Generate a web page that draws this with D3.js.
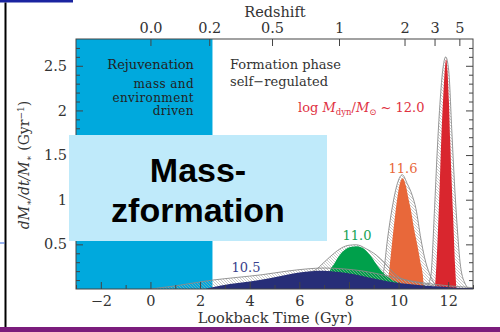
<!DOCTYPE html>
<html>
<head>
<meta charset="utf-8">
<script src="https://cdn.jsdelivr.net/npm/d3@7"></script>
<style>
  body { margin: 0; background: #fff; }
  svg { display: block; }
  .tick text { font-family: "DejaVu Serif", serif; font-size: 14.5px; fill: #333; }
  .tick line { stroke: #444; }
</style>
</head>
<body>
<div class="canvas"></div>
<script>
// ---- data (lookback time in Gyr, rate in Gyr^-1) ----
const redFill = [[11.46,0],[11.5,0.15],[11.58,0.6],[11.65,1.1],[11.72,1.67],[11.8,2.15],[11.87,2.48],[11.92,2.57],[11.97,2.45],[12.03,2.1],[12.08,1.67],[12.14,1.2],[12.2,0.8],[12.28,0.25],[12.33,0]];
const redEnv = [[11.1,0],[11.3,0.15],[11.45,0.9],[11.55,1.5],[11.65,2.0],[11.78,2.45],[11.9,2.6],[12.02,2.45],[12.15,1.75],[12.25,1.2],[12.35,0.75],[12.5,0.25],[12.7,0.05],[12.85,0]];
const orangeFill = [[9.52,0],[9.58,0.1],[9.65,0.28],[9.75,0.55],[9.85,0.8],[9.95,1.02],[10.05,1.18],[10.17,1.24],[10.3,1.15],[10.4,1.01],[10.5,0.88],[10.62,0.68],[10.75,0.5],[10.88,0.3],[10.98,0.15],[11.02,0]];
const orangeEnv = [[9.05,0],[9.2,0.05],[9.4,0.2],[9.55,0.55],[9.75,0.92],[9.95,1.18],[10.15,1.28],[10.35,1.18],[10.55,1.05],[10.7,0.9],[10.9,0.56],[11.05,0.35],[11.25,0.17],[11.45,0.06],[11.65,0]];
const greenFill = [[7.1,0],[7.2,0.18],[7.4,0.28],[7.6,0.37],[7.8,0.43],[8.05,0.47],[8.33,0.48],[8.6,0.45],[8.85,0.38],[9.1,0.28],[9.35,0.19],[9.6,0.13],[9.9,0.08],[10.3,0.03],[10.8,0]];
const greenEnv = [[5.5,0],[6.0,0.12],[6.3,0.18],[6.63,0.21],[7.0,0.3],[7.4,0.4],[7.7,0.46],[8.0,0.49],[8.3,0.495],[8.7,0.45],[9.1,0.38],[9.45,0.29],[9.8,0.18],[10.1,0.12],[10.8,0.07],[11.5,0.03],[12.2,0]];
const navyFill = [[2.2,0],[2.5,0.02],[3.2,0.055],[4.0,0.085],[4.8,0.12],[5.5,0.16],[6.0,0.185],[6.5,0.2],[7.0,0.205],[7.6,0.19],[8.2,0.165],[8.8,0.13],[9.6,0.085],[10.4,0.055],[11.4,0.03],[12.2,0.018],[13,0.01]];
const navyEnv = [[0,0],[1.0,0.035],[2.5,0.1],[3.5,0.13],[4.5,0.16],[5.5,0.2],[6.3,0.225],[7.0,0.235],[7.8,0.225],[8.6,0.2],[9.5,0.15],[10.5,0.09],[11.5,0.05],[12.5,0.025],[13,0.015]];

const lookbackMajor = [-2, 0, 2, 4, 6, 8, 10, 12];
const rateMajor = [0.5, 1, 1.5, 2, 2.5];
const redshiftLabels = ['0.0', '0.2', '0.5', '1', '2', '3', '5'];
const redshiftLookback = [0, 2.37, 4.9, 7.6, 10.24, 11.45, 12.45];
const rejuvenationEnd = 2.5;

const width = 500, height = 332;
const margin = { top: 39, right: 27, bottom: 43, left: 76 };
const graphWidth = width - margin.left - margin.right;
const graphHeight = height - margin.top - margin.bottom;

const svg = d3.select('.canvas')
    .append('svg')
    .attr('width', width)
    .attr('height', height);

// slide decorations
svg.append('rect').attr('x', 0).attr('y', 0).attr('width', 73).attr('height', 2.5).attr('fill', '#1a24a0');
svg.append('rect').attr('x', 4.5).attr('y', 2.5).attr('width', 2).attr('height', 325).attr('fill', '#000');
svg.append('rect').attr('x', 0).attr('y', 242.5).attr('width', 4.5).attr('height', 1).attr('fill', '#3366e0');
svg.append('rect').attr('x', 0).attr('y', 327).attr('width', width).attr('height', 5).attr('fill', '#7b1d7c');

const graph = svg.append('g')
    .attr('transform', `translate(${margin.left}, ${margin.top})`);

// scales
const x = d3.scaleLinear().domain([-3, 13]).range([0, graphWidth]);
const y = d3.scaleLinear().domain([0, 2.8]).range([graphHeight, 0]);

// hatch pattern for uncertainty envelopes
const defs = svg.append('defs');
const pat = defs.append('pattern')
    .attr('id', 'hatch')
    .attr('patternUnits', 'userSpaceOnUse')
    .attr('width', 3).attr('height', 3);
pat.append('path')
    .attr('d', 'M-1,-1 L4,4 M-1,2 L1,4 M2,-1 L4,1')
    .attr('stroke', '#a8a8a8')
    .attr('stroke-width', 0.6);
defs.append('clipPath').attr('id', 'plotclip')
    .append('rect').attr('width', graphWidth).attr('height', graphHeight);

// rejuvenation band
graph.append('rect')
    .attr('x', 0).attr('y', 0)
    .attr('width', x(rejuvenationEnd))
    .attr('height', graphHeight)
    .attr('fill', '#00a9dd');

const area = d3.area()
    .x(d => x(d[0]))
    .y0(graphHeight)
    .y1(d => y(d[1]))
    .curve(d3.curveMonotoneX);
const line = d3.line()
    .x(d => x(d[0]))
    .y(d => y(d[1]))
    .curve(d3.curveMonotoneX);

const curves = graph.append('g').attr('clip-path', 'url(#plotclip)');
const series = [
    { env: redEnv, fill: redFill, color: '#d9262e' },
    { env: orangeEnv, fill: orangeFill, color: '#e8683a' },
    { env: greenEnv, fill: greenFill, color: '#00a04b' },
    { env: navyEnv, fill: navyFill, color: '#272e78' }
];
series.forEach(s => {
    curves.append('path').datum(s.env)
        .attr('d', area)
        .attr('fill', 'url(#hatch)');
    curves.append('path').datum(s.env)
        .attr('d', line)
        .attr('fill', 'none')
        .attr('stroke', '#8a8a8a')
        .attr('stroke-width', 0.9);
    curves.append('path').datum(s.fill)
        .attr('d', area)
        .attr('fill', s.color);
});

// axes
const minorX = d3.range(-3, 14, 1).filter(v => !lookbackMajor.includes(v));
const minorY = d3.range(1, 28).map(v => v / 10).filter(v => !rateMajor.includes(v));

const xAxis = d3.axisBottom(x).tickValues(lookbackMajor).tickSize(-7).tickPadding(7)
    .tickFormat(d => d < 0 ? '\u2212' + Math.abs(d) : d);
const xMinor = d3.axisBottom(x).tickValues(minorX).tickSize(-4).tickFormat('');
const yAxis = d3.axisLeft(y).tickValues(rateMajor).tickSize(-7).tickPadding(9)
    .tickFormat(d => d);
const yMinor = d3.axisLeft(y).tickValues(minorY).tickSize(-4).tickFormat('');
const yRight = d3.axisRight(y).tickValues(rateMajor).tickSize(-7).tickFormat('');
const yRightMinor = d3.axisRight(y).tickValues(minorY).tickSize(-4).tickFormat('');
const zAxis = d3.axisTop(x).tickValues(redshiftLookback).tickSize(-7).tickPadding(6)
    .tickFormat((d, i) => redshiftLabels[i]);

graph.append('g').attr('transform', `translate(0, ${graphHeight})`).call(xAxis);
graph.append('g').attr('transform', `translate(0, ${graphHeight})`).call(xMinor);
graph.append('g').call(yAxis);
graph.append('g').call(yMinor);
graph.append('g').attr('transform', `translate(${graphWidth}, 0)`).call(yRight);
graph.append('g').attr('transform', `translate(${graphWidth}, 0)`).call(yRightMinor);
graph.append('g').call(zAxis);
graph.selectAll('.domain').remove();

graph.append('rect')
    .attr('width', graphWidth).attr('height', graphHeight)
    .attr('fill', 'none').attr('stroke', '#444').attr('stroke-width', 1);

// axis titles
const serif = '"DejaVu Serif", serif';
svg.append('text')
    .attr('x', 275).attr('y', 17)
    .attr('text-anchor', 'middle')
    .style('font-family', serif).style('font-size', '14.5px').attr('fill', '#333')
    .text('Redshift');
svg.append('text')
    .attr('x', 275).attr('y', 323)
    .attr('text-anchor', 'middle')
    .style('font-family', serif).style('font-size', '14.5px').attr('fill', '#333')
    .text('Lookback Time (Gyr)');

const yl = svg.append('text')
    .attr('transform', 'translate(29, 165) rotate(-90)')
    .attr('text-anchor', 'middle')
    .style('font-family', serif).style('font-size', '14px').attr('fill', '#333');
yl.append('tspan').style('font-style', 'italic').text('dM');
yl.append('tspan').attr('dy', 3).style('font-size', '9px').text('\u2217');
yl.append('tspan').attr('dy', -3).style('font-style', 'italic').text('/dt/M');
yl.append('tspan').attr('dy', 3).style('font-size', '9px').text('\u2217');
yl.append('tspan').attr('dy', -3).text(' (Gyr');
yl.append('tspan').attr('dy', -5).style('font-size', '9px').text('\u22121');
yl.append('tspan').attr('dy', 5).text(')');

// annotations
const note = (txt, xp, yp, anchor, color, size) => svg.append('text')
    .attr('x', xp).attr('y', yp)
    .attr('text-anchor', anchor)
    .style('font-family', serif).style('font-size', (size || 13) + 'px')
    .attr('fill', color)
    .text(txt);

note('Rejuvenation', 194, 69, 'end', '#222');
note('mass and', 194, 87.5, 'end', '#222', 12).style('letter-spacing', '0.4px');
note('environment', 194, 101.5, 'end', '#222', 12).style('letter-spacing', '0.4px');
note('driven', 194, 115, 'end', '#222', 12).style('letter-spacing', '0.4px');
note('Formation phase', 230, 69, 'start', '#333');
note('self\u2212regulated', 230, 86, 'start', '#333');
note('11.6', 403, 173, 'middle', '#e8683a');
note('11.0', 357, 240, 'middle', '#17a356');
note('10.5', 246, 271.5, 'middle', '#3a3f8c');

const lm = svg.append('text')
    .attr('x', 298).attr('y', 112)
    .style('font-family', serif).style('font-size', '13px')
    .attr('fill', '#e0313f');
lm.append('tspan').text('log ');
lm.append('tspan').style('font-style', 'italic').text('M');
lm.append('tspan').attr('dy', 3).style('font-size', '8.5px').text('dyn');
lm.append('tspan').attr('dy', -3).text('/');
lm.append('tspan').style('font-style', 'italic').text('M');
lm.append('tspan').attr('dy', 3).style('font-size', '8.5px').text('\u2299');
lm.append('tspan').attr('dy', -3).text(' ~ 12.0');

// overlay label box
svg.append('rect')
    .attr('x', 69).attr('y', 135)
    .attr('width', 258).attr('height', 106)
    .attr('fill', '#bfeafa');
const big = svg.append('text')
    .attr('text-anchor', 'middle')
    .style('font-family', '"Liberation Sans", Arial, sans-serif')
    .style('font-weight', 'bold').style('font-size', '34px')
    .attr('fill', '#000');
big.append('tspan').attr('x', 198).attr('y', 181.5).text('Mass-');
big.append('tspan').attr('x', 198).attr('y', 221.5).text('zformation');
</script>
</body>
</html>
